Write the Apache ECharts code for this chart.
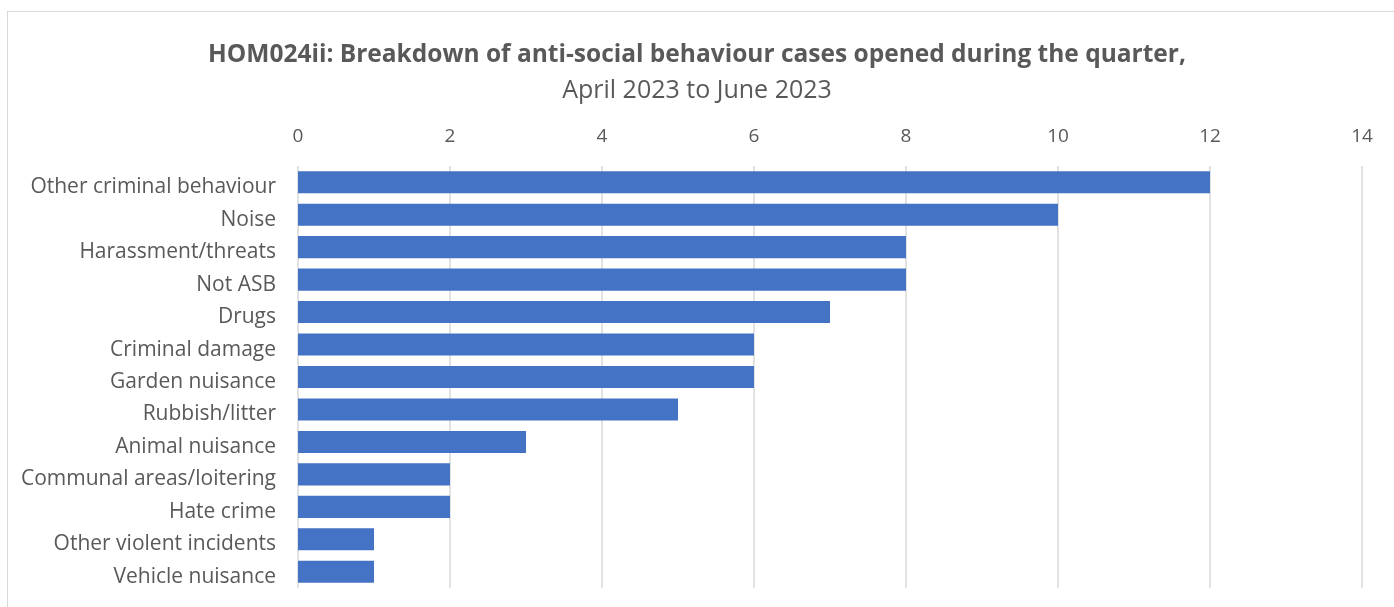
<!DOCTYPE html>
<html>
<head>
    <meta charset="UTF-8">
    <title>HOM024ii</title>
    <script src="https://cdn.jsdelivr.net/npm/echarts@6/dist/echarts.min.js"></script>
    <style>
        html, body { margin: 0; padding: 0; background: #fff; overflow: hidden; }
        #frame { position: absolute; left: 7px; top: 11px; width: 1420px; height: 700px; border: 1.5px solid #d9d9d9; }
        #main { position: absolute; left: 0; top: 0; width: 1394px; height: 607px; }
    </style>
</head>
<body>
    <div id="frame"></div>
    <div id="main"></div>
    <script type="text/javascript">
        // categories, top to bottom
        var categories = ['Other criminal behaviour', 'Noise', 'Harassment/threats', 'Not ASB', 'Drugs',
            'Criminal damage', 'Garden nuisance', 'Rubbish/litter', 'Animal nuisance',
            'Communal areas/loitering', 'Hate crime', 'Other violent incidents', 'Vehicle nuisance'];
        var cases = [12, 10, 8, 8, 7, 6, 6, 5, 3, 2, 2, 1, 1];
        var xTicks = [0, 2, 4, 6, 8, 10, 12, 14];

        var fontName = 'Open Sans';
        var myChart = echarts.init(document.getElementById('main'));

        var option = {
            animation: false,
            title: {
                text: '{b|HOM024ii: Breakdown of anti-social behaviour cases opened during the quarter,}\n{n|April 2023 to June 2023}',
                left: 'center',
                top: 33,
                textStyle: {
                    rich: {
                        b: { fontFamily: fontName, fontSize: 24.5, fontWeight: 'bold', color: '#595959', lineHeight: 35 },
                        n: { fontFamily: fontName, fontSize: 25, fontWeight: 'normal', color: '#595959', lineHeight: 35 }
                    }
                }
            },
            grid: { left: 298, right: 32, top: 166, bottom: 19, containLabel: false },
            xAxis: {
                type: 'value',
                position: 'top',
                min: xTicks[0],
                max: xTicks[xTicks.length - 1],
                interval: 2,
                axisLine: { show: false },
                axisTick: { show: false },
                axisLabel: { margin: 20, color: '#595959', fontFamily: fontName, fontSize: 19 },
                splitLine: { lineStyle: { color: '#d9d9d9', width: 1.5 } }
            },
            yAxis: {
                type: 'category',
                inverse: true,
                data: categories,
                axisLine: { show: false },
                axisTick: { show: false },
                axisLabel: {
                    margin: 22,
                    formatter: function (v) { return '{c|' + v + '}'; },
                    rich: {
                        c: { color: '#595959', fontFamily: fontName, fontSize: 21, padding: [10, 0, 0, 0] }
                    }
                }
            },
            series: [{
                type: 'bar',
                data: cases,
                barCategoryGap: '32%',
                itemStyle: { color: '#4472c4' }
            }]
        };
        myChart.setOption(option);
    </script>
</body>
</html>
